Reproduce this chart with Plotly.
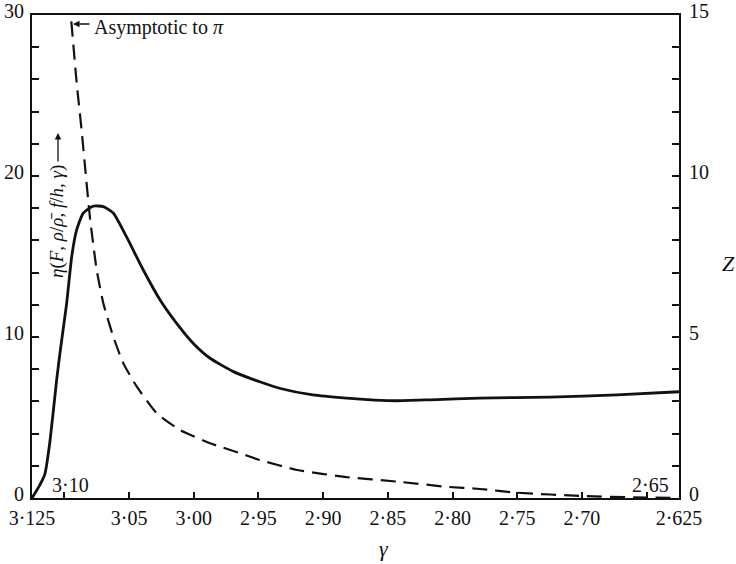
import plotly.graph_objects as go

# --- data ---
gamma_eta = [3.125, 3.119, 3.115, 3.111, 3.106, 3.1034, 3.0982, 3.0943, 3.0905, 3.0854,
             3.0776, 3.0699, 3.0622, 3.0518, 3.039, 3.026, 3.0132, 3.0003, 2.9874, 2.9694,
             2.949, 2.933, 2.908, 2.882, 2.860, 2.843, 2.817, 2.779, 2.725, 2.673, 2.625]
eta = [0.0, 0.8, 1.5, 3.6, 7.3, 9.0, 12.1, 15.0, 16.65, 17.7,
       18.13, 18.1, 17.7, 16.2, 14.16, 12.3, 10.85, 9.6, 8.68, 7.85,
       7.22, 6.8, 6.4, 6.2, 6.08, 6.04, 6.1, 6.2, 6.27, 6.4, 6.6]

gamma_z = [3.0968, 3.0951, 3.0905, 3.0866, 3.0838, 3.0802, 3.075, 3.0699, 3.0622, 3.0544,
           3.044, 3.0286, 3.0106, 2.9874, 2.964, 2.949, 2.920, 2.882, 2.843, 2.805,
           2.779, 2.750, 2.699, 2.660, 2.625]
z_vals = [15.5, 15.0, 12.9, 11.4, 10.2, 8.7, 7.08, 6.05, 5.01, 4.18,
          3.46, 2.63, 2.11, 1.70, 1.39, 1.18, 0.87, 0.65, 0.51, 0.35,
          0.28, 0.165, 0.06, 0.02, 0.0]

x_tickvals = [3.125, 3.10, 3.05, 3.00, 2.95, 2.90, 2.85, 2.80, 2.75, 2.70, 2.65, 2.625]
x_ticktext = ["3·125", "", "3·05", "3·00", "2·95", "2·90", "2·85", "2·80", "2·75", "2·70", "", "2·625"]
y_tickvals = list(range(0, 31, 2))
y_ticktext = [str(v) if v % 10 == 0 else "" for v in y_tickvals]
y2_tickvals = list(range(0, 16))
y2_ticktext = [str(v) if v % 5 == 0 else "" for v in y2_tickvals]

FONT = "Liberation Serif, Times New Roman, DejaVu Serif, serif"
W, H = 736, 564
L, R, T, B = 32, 679, 15, 498


def px(x):
    return (x - L) / (R - L)


def py(y):
    return (B - y) / (B - T)


fig = go.Figure()
fig.add_trace(go.Scatter(x=gamma_eta, y=eta, mode="lines",
                         line=dict(color="#111", width=2.8, shape="spline", smoothing=0.5),
                         showlegend=False))
fig.add_trace(go.Scatter(x=gamma_z, y=z_vals, mode="lines", yaxis="y2",
                         line=dict(color="#111", width=2.2, dash="15px,8px", shape="spline", smoothing=0.5),
                         showlegend=False))

axis_common = dict(showgrid=False, zeroline=False, showline=True, linecolor="#111", linewidth=2,
                   ticks="inside", tickcolor="#111", tickwidth=1.5, automargin=False,
                   tickfont=dict(family=FONT, size=20, color="#111"))

fig.update_layout(
    width=W, height=H,
    margin=dict(l=L, r=W - R, t=T, b=H - B, pad=0, autoexpand=False),
    paper_bgcolor="white", plot_bgcolor="white",
    font=dict(family=FONT, color="#111"),
    xaxis=dict(range=[3.125, 2.625], tickmode="array", tickvals=x_tickvals, ticktext=x_ticktext,
               mirror=True, ticklen=6, ticklabelstandoff=1, **axis_common),
    yaxis=dict(range=[0, 30], tickmode="array", tickvals=y_tickvals, ticktext=y_ticktext,
               ticklen=7, ticklabelshift=-4, ticklabelstandoff=2, **axis_common),
    yaxis2=dict(range=[0, 15], tickmode="array", tickvals=y2_tickvals, ticktext=y2_ticktext,
                overlaying="y", side="right", ticklen=7, ticklabelshift=-4, ticklabelstandoff=4,
                **axis_common),
)


def label(xp, yp, text, size, **kw):
    d = dict(xref="paper", yref="paper", x=px(xp), y=py(yp), text=text, showarrow=False,
             xanchor="center", yanchor="middle", font=dict(family=FONT, size=size, color="#111"))
    d.update(kw)
    return d


ann = []
# inside labels on x axis
ann.append(label(70, 485, "3·10", 20))
ann.append(label(650, 485, "2·65", 20))
# asymptote note
ann.append(label(92, 27, "Asymptotic to <i>π</i>", 20, xanchor="left"))
ann.append(dict(xref="paper", yref="paper", x=px(73), y=py(24), text="", showarrow=True,
                ax=18, ay=0, arrowhead=2, arrowsize=1, arrowwidth=1.3, arrowcolor="#111"))
# left rotated label
ann.append(label(57, 222, "<i>η</i>(<i>F</i>, <i>ρ</i>/<i>ρ̄</i>, <i>f</i>/<i>h</i>, <i>γ</i>)", 19,
                 textangle=-90))
ann.append(dict(xref="paper", yref="paper", x=px(58), y=py(133), text="", showarrow=True,
                ax=0, ay=30, arrowhead=2, arrowsize=1, arrowwidth=1.3, arrowcolor="#111"))
# right axis title Z
ann.append(label(728, 263, "<i>Z</i>", 22))
# x axis title
ann.append(label(384, 548, "<i>γ</i>", 22))
fig.update_layout(annotations=ann)

fig.write_html("out.html")
